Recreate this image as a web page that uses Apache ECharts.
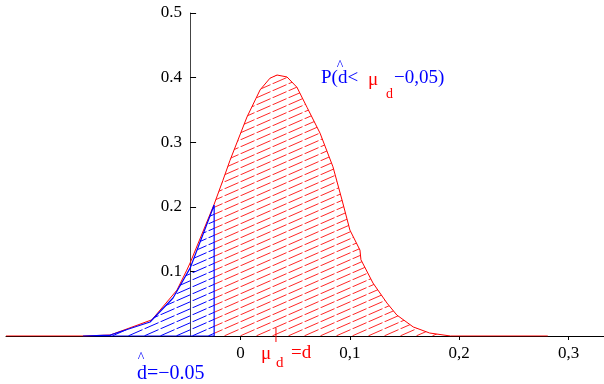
<!DOCTYPE html>
<html>
<head>
<meta charset="utf-8">
<script src="https://cdn.jsdelivr.net/npm/echarts@6/dist/echarts.min.js"></script>
<style>
  html, body { margin: 0; padding: 0; background: #fff; }
  #chart { width: 604px; height: 384px; }
</style>
</head>
<body>
<div id="chart"></div>
<script>
// density of d-hat
const redX = [-0.2143, -0.144, -0.119, -0.081, -0.058, -0.049, -0.046, -0.024, -0.016, -0.0095,
  0.006, 0.018, 0.027, 0.0335, 0.0426, 0.0517, 0.0609, 0.0728, 0.0846, 0.0929,
  0.1001, 0.1093, 0.1102, 0.1212, 0.134, 0.143, 0.158, 0.173, 0.192, 0.281];
const redY = [0, 0, 0.0015, 0.025, 0.071, 0.102, 0.113, 0.204, 0.241, 0.272,
  0.339, 0.381, 0.399, 0.404, 0.401, 0.385, 0.354, 0.314, 0.262, 0.2105,
  0.164, 0.133, 0.118, 0.082, 0.051, 0.0325, 0.014, 0.0046, 0, 0];
// lower tail, P(d-hat < mu_d - 0,05)
const blueX = [-0.144, -0.119, -0.0826, -0.0616, -0.046, -0.024, -0.024, -0.144];
const blueY = [0, 0.0015, 0.0217, 0.0588, 0.105, 0.2028, 0, 0];

const cutX = -0.024;
const muX = 0.0325;
const yAxisAtX = -0.046;
const xMin = -0.2143, xMax = 0.3324;
const xTicks = [0, 0.1, 0.2, 0.3];
const xTickLabels = ['0', '0,1', '0,2', '0,3'];

const serif = '"Liberation Serif", "DejaVu Serif", serif';

function hatch(color) {
  const c = document.createElement('canvas');
  c.width = 16; c.height = 7;
  const g = c.getContext('2d');
  g.strokeStyle = color;
  g.lineWidth = 1;
  g.beginPath();
  g.moveTo(0.5, 7 - 0.5 * 7 / 16);
  g.lineTo(14.5, 7 - 14.5 * 7 / 16);
  g.stroke();
  return c;
}

const redPts = redX.map((x, i) => [x, redY[i]]);
const bluePts = blueX.map((x, i) => [x, blueY[i]]);

const chart = echarts.init(document.getElementById('chart'));

chart.setOption({
  animation: false,
  grid: { left: 6, right: 0, top: 13, bottom: 48, outerBoundsMode: 'none', containLabel: false },
  xAxis: {
    type: 'value',
    min: xMin,
    max: xMax,
    axisLine: { onZero: false, lineStyle: { color: '#000', width: 1 } },
    axisTick: { customValues: xTicks, length: 4, lineStyle: { color: '#000' } },
    axisLabel: {
      customValues: xTicks,
      margin: 9,
      color: '#000',
      fontFamily: serif,
      fontSize: 17,
      formatter: v => xTickLabels[xTicks.findIndex(t => Math.abs(t - v) < 1e-9)]
    },
    splitLine: { show: false }
  },
  yAxis: {
    type: 'value',
    min: 0,
    max: 0.5,
    interval: 0.1,
    axisLine: { show: true, onZero: false, lineStyle: { color: '#444', width: 1 } },
    axisTick: { show: true, inside: true, length: 6, lineStyle: { color: '#000' } },
    axisLabel: {
      margin: 8,
      color: '#000',
      fontFamily: serif,
      fontSize: 17,
      formatter: v => (v === 0 ? '' : v.toFixed(1))
    },
    splitLine: { show: false }
  },
  series: [
    {
      type: 'line',
      data: redPts.filter(p => p[0] >= cutX),
      showSymbol: false,
      lineStyle: { width: 0, opacity: 0 },
      areaStyle: { color: { image: hatch('rgba(255,0,0,0.85)'), repeat: 'repeat' }, opacity: 1 },
      z: 1
    },
    {
      type: 'line',
      data: redPts,
      showSymbol: false,
      lineStyle: { color: '#ff0000', width: 1 },
      z: 2
    },
    {
      type: 'line',
      data: bluePts,
      showSymbol: false,
      lineStyle: { color: '#0000ff', width: 1.2 },
      areaStyle: { color: { image: hatch('#0000ff'), repeat: 'repeat' }, opacity: 1 },
      z: 3
    }
  ]
});

// move the y axis to its crossing point
const gridLeft = 6;
const yAxisPx = chart.convertToPixel({ xAxisIndex: 0 }, yAxisAtX);
chart.setOption({ yAxis: { offset: -(yAxisPx - gridLeft) } });

// mu_d tick and the annotations
const muPx = chart.convertToPixel({ xAxisIndex: 0 }, muX);
const zeroPy = chart.convertToPixel({ yAxisIndex: 0 }, 0);

const blue = '#0000ff', red = '#ff0000';
const txt = (x, y, s, color, size, align) => ({
  type: 'text', x: x, y: y,
  style: { text: s, fill: color, font: size + 'px ' + serif, align: align || 'left', verticalAlign: 'middle' },
  z: 10
});

chart.setOption({
  graphic: [
    { type: 'line', shape: { x1: muPx, y1: zeroPy - 8, x2: muPx, y2: zeroPy + 6 }, style: { stroke: red, lineWidth: 1 }, z: 10 },
    txt(321, 78, 'P(d<', blue, 19),
    txt(340, 66, '^', blue, 14, 'center'),
    txt(368, 80, 'μ', red, 19),
    txt(386, 94, 'd', red, 14),
    txt(394, 78, '−0,05)', blue, 19),
    txt(261, 354, 'μ', red, 19),
    txt(276, 363, 'd', red, 15),
    txt(291, 353, '=d', red, 19),
    txt(141, 358, '^', blue, 14, 'center'),
    txt(137, 374, 'd=−0.05', blue, 20)
  ]
});
</script>
</body>
</html>
